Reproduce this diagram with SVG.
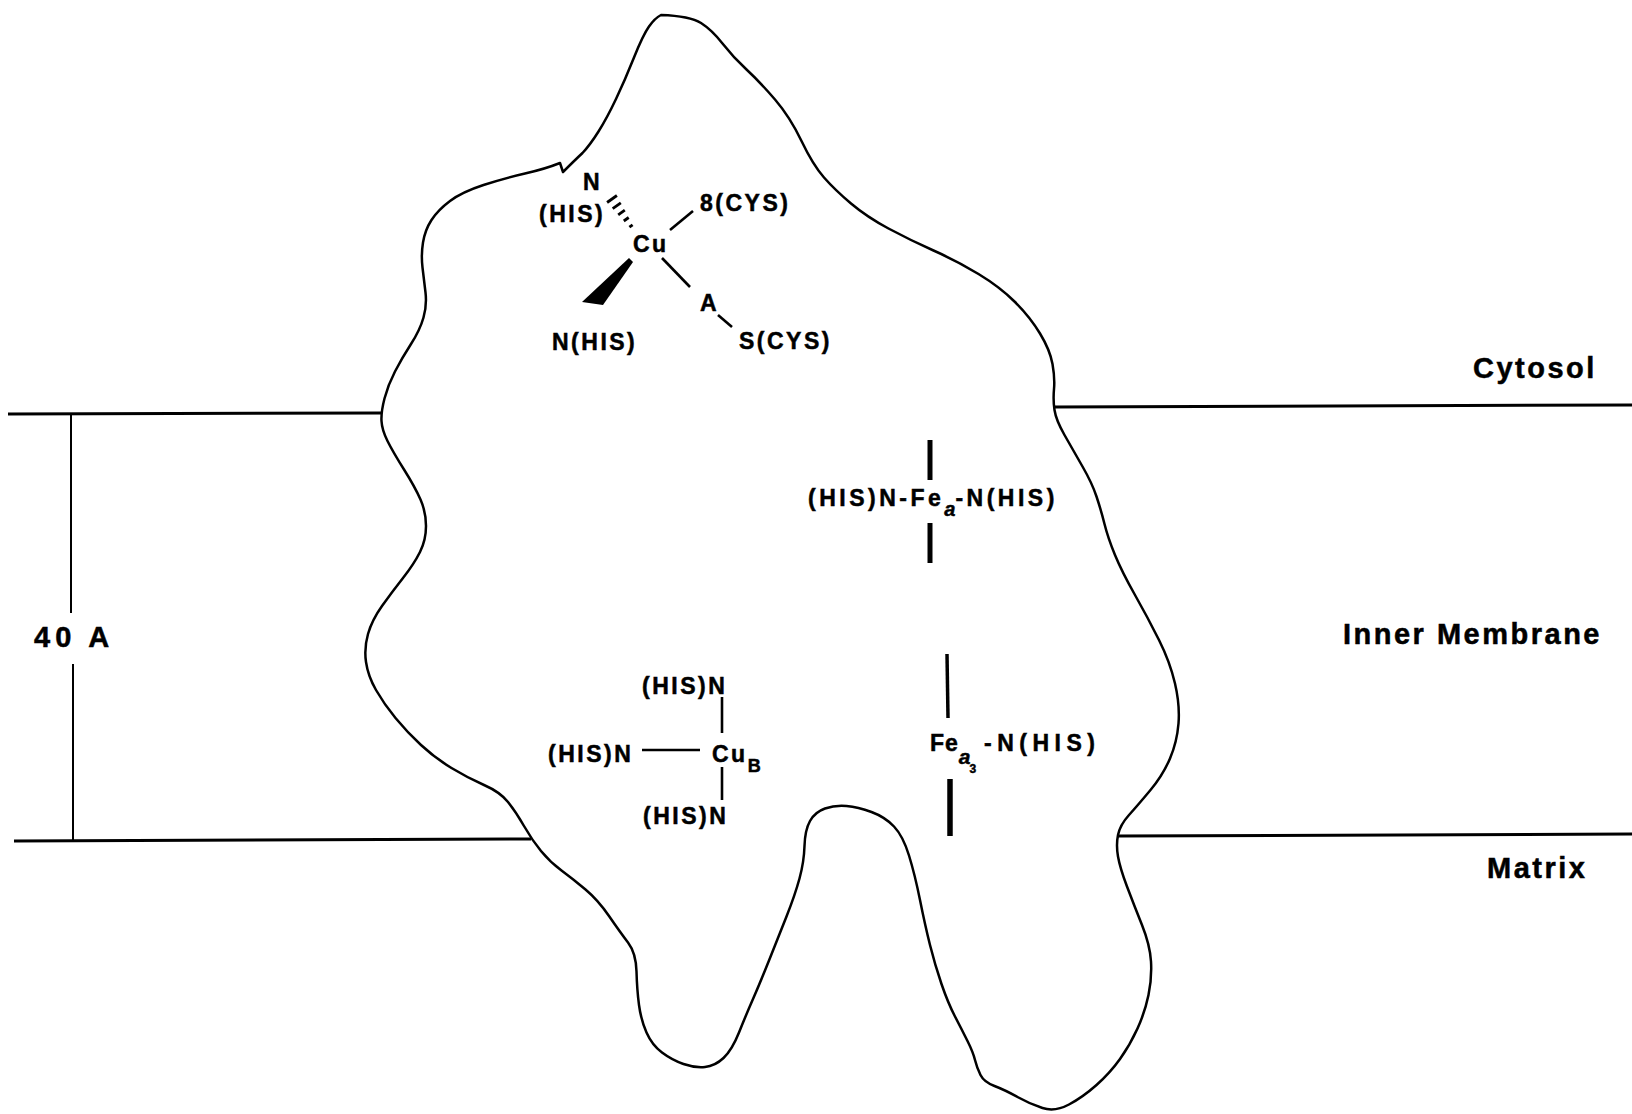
<svg xmlns="http://www.w3.org/2000/svg" width="1632" height="1114" viewBox="0 0 1632 1114">
  <style>
    .outline { fill: none; stroke: #000; stroke-width: 2.5; stroke-linejoin: round; stroke-linecap: round; }
    .membrane { stroke: #000; stroke-width: 3; }
    .dim { stroke: #000; stroke-width: 2; }
    .bond { stroke: #000; stroke-width: 2.6; stroke-linecap: butt; }
    .bar { stroke: #000; stroke-linecap: butt; }
    .lbl { font-family: "Liberation Sans", Arial, sans-serif; font-weight: bold; font-size: 29px; letter-spacing: 2.5px; fill: #000; stroke: #000; stroke-width: 0.5; }
    .chem { font-family: "Liberation Sans", Arial, sans-serif; font-weight: bold; font-size: 23px; letter-spacing: 2.5px; fill: #000; stroke: #000; stroke-width: 0.5; }
    .sub { font-size: 18px; letter-spacing: 0; }
    .ital { font-style: italic; }
  </style>

  <rect width="1632" height="1114" fill="#fff"/>

  <!-- membrane boundaries and thickness scale -->
  <g id="membrane">
    <line class="membrane" x1="8" y1="414" x2="381" y2="413"/>
    <line class="membrane" x1="1054" y1="407" x2="1632" y2="405"/>
    <line class="membrane" x1="14" y1="841" x2="531" y2="839"/>
    <line class="membrane" x1="1118" y1="836" x2="1632" y2="834"/>
    <line class="dim" x1="71" y1="414" x2="71" y2="613"/>
    <line class="dim" x1="73" y1="664" x2="73" y2="841"/>
    <text class="lbl" x="34" y="647" style="letter-spacing:5px">40 A</text>
  </g>

  <!-- region labels -->
  <g id="labels">
    <text class="lbl" x="1473" y="378">Cytosol</text>
    <text class="lbl" x="1343" y="644">Inner Membrane</text>
    <text class="lbl" x="1487" y="878">Matrix</text>
  </g>

  <!-- protein envelope -->
  <g id="protein">
    <path class="outline" d="M661,15
      Q690,16 701,23 Q712,30 722.5,43.5 Q733,57 746.5,69.5 Q760,82 775,99.5 Q790,117 801.5,141
      Q813,165 824,177.5 Q835,190 851,203.5 Q867,217 888.5,228.5 Q910,240 933.5,250.5
      Q957,261 978.5,274 Q1000,287 1015,302 Q1030,317 1040,333.5 Q1050,350 1052.5,364
      Q1055,378 1054,389 Q1053,400 1054.5,410 Q1056,420 1064.5,435 Q1073,450 1082.5,466.5
      Q1092,483 1096.5,496.5 Q1101,510 1104.5,524 Q1108,538 1115,555 Q1122,572 1135,595
      Q1148,618 1159,640 Q1170,662 1175,683.5 Q1180,705 1178.5,723.5 Q1177,742 1170,758.5
      Q1163,775 1150.5,790 Q1138,805 1129,815 Q1120,825 1118,835 Q1116,845 1118,856.5
      Q1120,868 1127,886.5 Q1134,905 1142,925 Q1150,945 1151,961.5 Q1152,978 1148.5,995
      Q1145,1012 1137.5,1028.5 Q1130,1045 1120,1059 Q1110,1073 1096.5,1085 Q1083,1097 1069,1104.5
      Q1055,1112 1042.5,1108 Q1030,1104 1017.5,1097 Q1005,1090 994.5,1086 Q984,1082 980.5,1075
      Q977,1068 975,1060 Q973,1052 967.5,1041 Q962,1030 955,1016.5 Q948,1003 941.5,984
      Q935,965 930,945 Q925,925 920,900 Q915,875 909,855.5 Q903,836 894,826.5
      Q885,817 871.5,812 Q858,807 846.5,806 Q835,805 825,808.5 Q815,812 810,821
      Q805,830 804.5,846 Q804,862 799.5,878.5 Q795,895 786.5,916.5 Q778,938 769,960.5
      Q760,983 753,999 Q746,1015 739,1032.5 Q732,1050 723.5,1058 Q715,1066 705,1067
      Q695,1068 683.5,1064 Q672,1060 662,1052.5 Q652,1045 646.5,1032.5 Q641,1020 639,1005
      Q637,990 636.5,971.5 Q636,953 628,942.5 Q620,932 609,916 Q598,900 585.5,889.5
      Q573,879 561.5,870.5 Q550,862 541,851 Q532,840 524,826 Q516,812 508,802
      Q500,792 484,785 Q468,778 451.5,768 Q435,758 421,745 Q407,732 395.5,718
      Q384,704 376,690 Q368,676 366,662 Q364,648 368,634 Q372,620 382,606
      Q392,592 403,578 Q414,564 420,552 Q426,540 426,526 Q426,512 420.5,499.5
      Q415,487 404,469.5 Q393,452 387.5,441 Q382,430 381.5,421 Q381,412 384.5,398.5
      Q388,385 395,371.5 Q402,358 411,344 Q420,330 423.5,317.5 Q427,305 425.5,292.5
      Q424,280 422.5,267.5 Q421,255 423,242.5 Q425,230 431.5,220 Q438,210 450,201
      Q462,192 483.5,185 Q505,178 525,173.5 Q545,169 560,163 L563,172
      Q575,160 582.5,153 Q590,145 598.5,131.5 Q607,118 616,99 Q625,80 634,57.5
      Q643,35 649,26.5 Q655,18 661,15 Z"/>
  </g>

  <!-- Cu(A) site -->
  <g id="cuA">
    <text class="chem" x="583" y="190">N</text>
    <text class="chem" x="539" y="222">(HIS)</text>
    <text class="chem" x="633" y="252">Cu</text>
    <text class="chem" x="700" y="211">8(CYS)</text>
    <text class="chem" x="700" y="311">A</text>
    <text class="chem" x="739" y="349">S(CYS)</text>
    <text class="chem" x="552" y="350">N(HIS)</text>
    <g class="hash" stroke="#000" stroke-width="2.8">
      <line x1="607.1" y1="202.5" x2="616.9" y2="195.5"/>
      <line x1="612.7" y1="208.6" x2="620.8" y2="202.9"/>
      <line x1="618.2" y1="214.8" x2="624.8" y2="210.2"/>
      <line x1="623.8" y1="221" x2="628.7" y2="217.5"/>
      <line x1="629.4" y1="227.2" x2="632.6" y2="224.8"/>
    </g>
    <polygon points="629,258 633,262 603,305 582,302" fill="#000"/>
  </g>

  <!-- Fe(a) heme -->
  <g id="fea">
    <line class="bar" x1="930" y1="440" x2="930" y2="480" stroke-width="5"/>
    <line class="bar" x1="930" y1="523" x2="930" y2="563" stroke-width="5"/>
    <text class="chem" x="808" y="506" style="letter-spacing:3.5px">(HIS)N-Fe<tspan class="sub ital" dy="10" style="font-size:20px">a</tspan><tspan dy="-10">-N(HIS)</tspan></text>
  </g>

  <!-- Cu(B) site -->
  <g id="cuB">
    <text class="chem" x="642" y="694">(HIS)N</text>
    <text class="chem" x="548" y="762">(HIS)N</text>
    <text class="chem" x="712" y="762">Cu<tspan class="sub" dy="10">B</tspan></text>
    <text class="chem" x="643" y="824">(HIS)N</text>
  </g>

  <!-- Fe(a3) heme -->
  <g id="fea3">
    <line class="bar" x1="947" y1="654" x2="948" y2="718" stroke-width="3.5"/>
    <line class="bar" x1="950" y1="779" x2="950" y2="836" stroke-width="5.5"/>
    <text class="chem" x="930" y="751" style="letter-spacing:1px">Fe<tspan class="ital" dy="13" style="font-size:21px;letter-spacing:0">a</tspan><tspan dx="-1" dy="9" style="font-size:12px;letter-spacing:0">3</tspan><tspan x="984" dy="-22" style="letter-spacing:5.5px">-N(HIS)</tspan></text>
  </g>

  <!-- bonds -->
  <g id="connectors">
    <line class="bond" x1="670" y1="230" x2="693" y2="211"/>
    <line class="bond" x1="662" y1="258" x2="690" y2="287"/>
    <line class="bond" x1="718" y1="315" x2="732" y2="327"/>
    <line class="bond" x1="722" y1="697" x2="722" y2="733"/>
    <line class="bond" x1="642" y1="750" x2="700" y2="750"/>
    <line class="bond" x1="722" y1="767" x2="722" y2="800"/>
  </g>
</svg>
